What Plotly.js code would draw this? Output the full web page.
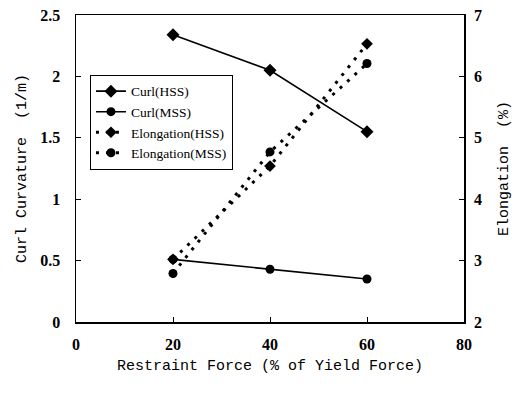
<!DOCTYPE html>
<html>
<head>
<meta charset="utf-8">
<script src="https://cdn.plot.ly/plotly-3.0.1.min.js"></script>
<style>html,body{margin:0;padding:0;background:#fff;}#chart{width:516px;height:396px;}</style>
</head>
<body>
<div id="chart"></div>
<script>
const restraintForce = [20, 40, 60];
const curlHSS = [2.34, 2.05, 1.55];
const curlMSS = [0.51, 0.43, 0.35];
const elongHSS = [3.02, 4.54, 6.53];
const elongMSS = [2.79, 4.77, 6.21];
const seriesNames = ['Curl(HSS)', 'Curl(MSS)', 'Elongation(HSS)', 'Elongation(MSS)'];
const xTicks = [0, 20, 40, 60, 80];
const yLeftTicks = [0, 0.5, 1, 1.5, 2, 2.5];
const yRightTicks = [2, 3, 4, 5, 6, 7];

const tickFont = {family: 'Liberation Serif, serif', size: 16, color: '#000', weight: 'bold'};
const titleFont = {family: 'Liberation Mono, monospace', size: 15, color: '#000'};

const traces = [
  {x: restraintForce, y: curlHSS, name: seriesNames[0], type: 'scatter', mode: 'lines+markers',
   line: {color: '#000', width: 1.6}, marker: {symbol: 'diamond', size: 10, color: '#000'}},
  {x: restraintForce, y: curlMSS, name: seriesNames[1], type: 'scatter', mode: 'lines+markers',
   line: {color: '#000', width: 1.6}, marker: {symbol: 'circle', size: 9, color: '#000'}},
  {x: restraintForce, y: elongHSS, name: seriesNames[2], type: 'scatter', mode: 'lines+markers', yaxis: 'y2',
   line: {color: '#000', width: 3, dash: '3px,7px'}, marker: {symbol: 'diamond', size: 9, color: '#000'}},
  {x: restraintForce, y: elongMSS, name: seriesNames[3], type: 'scatter', mode: 'lines+markers', yaxis: 'y2',
   line: {color: '#000', width: 3, dash: '3px,7px'}, marker: {symbol: 'circle', size: 9, color: '#000'}}
];

const layout = {
  width: 516, height: 396,
  margin: {l: 76, r: 52, t: 15, b: 74},
  paper_bgcolor: '#fff', plot_bgcolor: '#fff',
  showlegend: true,
  legend: {x: 0.036, y: 0.805, xanchor: 'left', yanchor: 'top', bgcolor: '#fff',
           bordercolor: '#000', borderwidth: 1,
           font: {family: 'Liberation Serif, serif', size: 13.5, color: '#000'}},
  xaxis: {range: [0, 80], tickvals: xTicks, ticktext: xTicks.map(String), showgrid: false, zeroline: false,
          showline: true, linecolor: '#000', linewidth: 1.5, mirror: true,
          ticks: 'inside', ticklen: 5, tickcolor: '#000', tickfont: tickFont, ticklabelstandoff: 7,
          title: {text: 'Restraint Force (% of Yield Force)', font: titleFont, standoff: 8}},
  yaxis: {range: [0, 2.5], tickvals: yLeftTicks, ticktext: ['0', '0.5', '1', '1.5', '2', '2.5'], showgrid: false, zeroline: false,
          showline: true, linecolor: '#000', linewidth: 1.5, mirror: true,
          ticks: 'inside', ticklen: 5, tickcolor: '#000', tickfont: tickFont, ticklabelstandoff: 11,
          title: {text: 'Curl Curvature  (1/m)', font: titleFont, standoff: 10}},
  yaxis2: {range: [2, 7], tickvals: yRightTicks, ticktext: yRightTicks.map(String), overlaying: 'y', side: 'right',
          showgrid: false, zeroline: false, showline: false,
          ticks: 'inside', ticklen: 5, tickcolor: '#000', tickfont: tickFont, ticklabelstandoff: 9,
          title: {text: 'Elongation  (%)', font: titleFont, standoff: 16}}
};

Plotly.newPlot('chart', traces, layout, {displayModeBar: false, staticPlot: true});
</script>
</body>
</html>
